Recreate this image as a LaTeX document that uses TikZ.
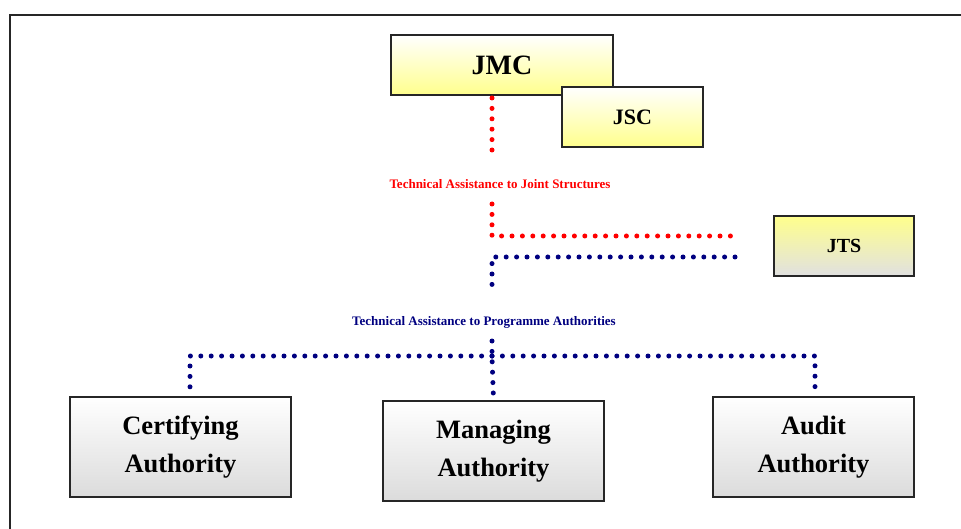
\documentclass[tikz,border=0pt]{standalone}
\usepackage{fontspec}
\setmainfont{Liberation Serif}
\begin{document}
\begin{tikzpicture}[x=1pt,y=-1pt,
  box/.style={draw=black!85, line width=1.8pt, inner sep=0pt, font=\bfseries},
  yellowbox/.style={box, top color=white, bottom color=yellow!45},
  jtsbox/.style={box, top color=yellow!45, bottom color=black!12},
  greybox/.style={box, top color=white, bottom color=black!14, align=center},
  dots/.style={line width=5pt, line cap=round, dash pattern=on 0pt off 10.4pt},
  reddots/.style={dots, draw=red},
  bluedots/.style={dots, draw=navy},
  lbl/.style={font=\bfseries\fontsize{13}{15}\selectfont}
]
\definecolor{navy}{RGB}{0,0,128}
\useasboundingbox (0,0) rectangle (961,529);
\clip (0,0) rectangle (961,529);
% outer frame, running past the right and bottom edges
\draw[line width=2pt, black!85] (10,560) -- (10,15) -- (990,15);

% top committees
\node[yellowbox, minimum width=222pt, minimum height=60pt,
      font=\bfseries\fontsize{28}{30}\selectfont] (jmc) at (502,65) {JMC};
\node[yellowbox, minimum width=141pt, minimum height=60pt,
      font=\bfseries\fontsize{22}{26}\selectfont] (jsc) at (632.5,117) {JSC};
\node[jtsbox, minimum width=140pt, minimum height=60pt,
      font=\bfseries\fontsize{20}{24}\selectfont] (jts) at (844,246) {JTS};

% labels
\node[lbl, text=red] (tajs) at (500,184) {Technical Assistance to Joint Structures};
\node[lbl, text=navy] (tapa) at (484,322) {Technical Assistance to Programme Authorities};

% authorities
\node[greybox, minimum width=221pt, minimum height=100pt,
      font=\bfseries\fontsize{26.5}{38}\selectfont] (ca) at (180.5,447) {Certifying\\Authority};
\node[greybox, minimum width=221pt, minimum height=100pt,
      font=\bfseries\fontsize{26.5}{38}\selectfont] (ma) at (493.5,451) {Managing\\Authority};
\node[greybox, minimum width=201pt, minimum height=100pt,
      font=\bfseries\fontsize{26.5}{38}\selectfont] (aa) at (813.5,447) {Audit\\Authority};

% red connector: JMC to the joint structures
\coordinate (r1) at (492,98);
\coordinate (r2) at (492,158);
\coordinate (r3) at (492,204);
\coordinate (r4) at (492,236);
\coordinate (r5) at (735,236);
\draw[reddots] (r1) -- (r2);
\draw[reddots] (r3) -- (r4) -- (r5);

% blue connector: programme authorities
\coordinate (b1) at (735,257);
\coordinate (b2) at (492,257);
\coordinate (b3) at (492,289);
\coordinate (b4) at (492,341);
\coordinate (b5) at (492,356);
\coordinate (bl) at (190,356);
\coordinate (br) at (815,356);
\draw[bluedots] (b1) -- (b2) -- (b3);
\draw[bluedots] (b4) -- (b5) -- (ma.north);
\draw[bluedots] (b5) -- (bl) -- (bl |- ca.north);
\draw[bluedots] (b5) -- (br) -- (br |- aa.north);
\end{tikzpicture}
\end{document}
